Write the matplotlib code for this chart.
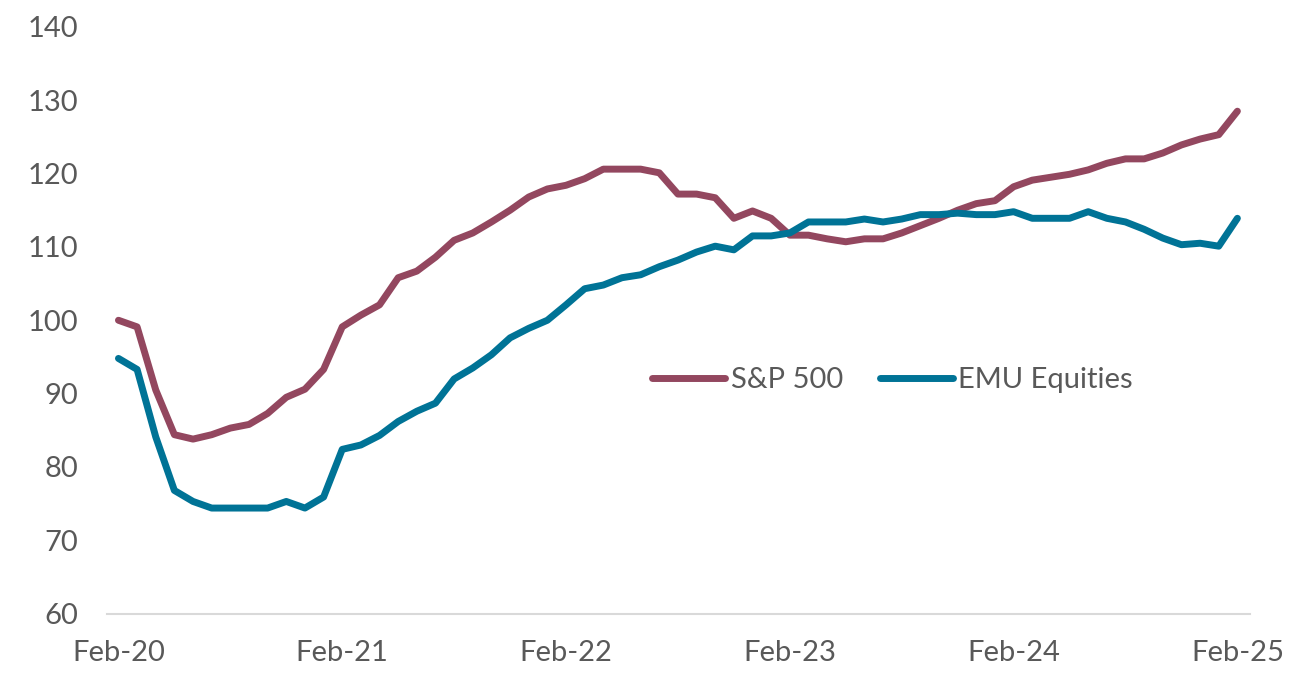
import matplotlib
matplotlib.use('Agg')
import matplotlib.pyplot as plt

plt.rcParams['font.family'] = ['Lato', 'DejaVu Sans']

# monthly, Feb-20 .. Feb-25 (indexed to 100)
sp500 = [100.0, 99.1, 90.5, 84.4, 83.8, 84.4, 85.3, 85.8, 87.3, 89.5,
         90.6, 93.3, 99.1, 100.7, 102.1, 105.8, 106.7, 108.6, 110.9, 111.9,
         113.4, 115.0, 116.8, 117.9, 118.4, 119.3, 120.6, 120.6, 120.6, 120.1,
         117.2, 117.2, 116.7, 113.9, 114.9, 113.9, 111.6, 111.6, 111.1, 110.7,
         111.1, 111.1, 111.9, 112.9, 113.9, 115.0, 115.9, 116.3, 118.2, 119.1,
         119.5, 119.9, 120.5, 121.4, 122.0, 122.0, 122.8, 123.9, 124.7, 125.3,
         128.5]
emu = [94.8, 93.3, 84.1, 76.8, 75.3, 74.4, 74.4, 74.4, 74.4, 75.3,
       74.4, 75.9, 82.4, 83.0, 84.3, 86.2, 87.6, 88.7, 92.0, 93.5,
       95.3, 97.6, 98.9, 100.0, 102.1, 104.3, 104.8, 105.8, 106.2, 107.3,
       108.2, 109.3, 110.1, 109.6, 111.5, 111.5, 111.9, 113.4, 113.4, 113.4,
       113.8, 113.4, 113.8, 114.4, 114.4, 114.6, 114.4, 114.4, 114.8, 113.9,
       113.9, 113.9, 114.8, 113.9, 113.4, 112.4, 111.2, 110.3, 110.5, 110.1,
       113.9]
tick_labels = ['Feb-20', 'Feb-21', 'Feb-22', 'Feb-23', 'Feb-24', 'Feb-25']
y_ticks = [60, 70, 80, 90, 100, 110, 120, 130, 140]

fig = plt.figure(figsize=(13.08, 6.88), dpi=100)
ax = fig.add_axes([0.082, 0.108, 0.874, 0.853])

x = list(range(len(sp500)))
ax.plot(x, sp500, color='#93475F', lw=5, solid_capstyle='round',
        solid_joinstyle='round', label='S&P 500')
ax.plot(x, emu, color='#007396', lw=5, solid_capstyle='round',
        solid_joinstyle='round', label='EMU Equities')

ax.set_xlim(-0.6, 60.7)
ax.set_ylim(60, 140)
ax.set_yticks(y_ticks)
ax.set_xticks(range(0, 61, 12))
ax.set_xticklabels(tick_labels)
ax.tick_params(axis='both', length=0, labelsize=21, colors='#595959')
ax.tick_params(axis='y', pad=21)
ax.tick_params(axis='x', pad=19)

for s in ['top', 'right', 'left']:
    ax.spines[s].set_visible(False)
ax.spines['bottom'].set_color('#D9D9D9')
ax.spines['bottom'].set_linewidth(1.5)

leg = ax.legend(loc='center', bbox_to_anchor=(0.687, 0.398), ncol=2,
                frameon=False, fontsize=21, handlelength=2.5,
                columnspacing=1.25, handletextpad=0.2)
for t in leg.get_texts():
    t.set_color('#595959')

fig.savefig('out.png', dpi=100)
